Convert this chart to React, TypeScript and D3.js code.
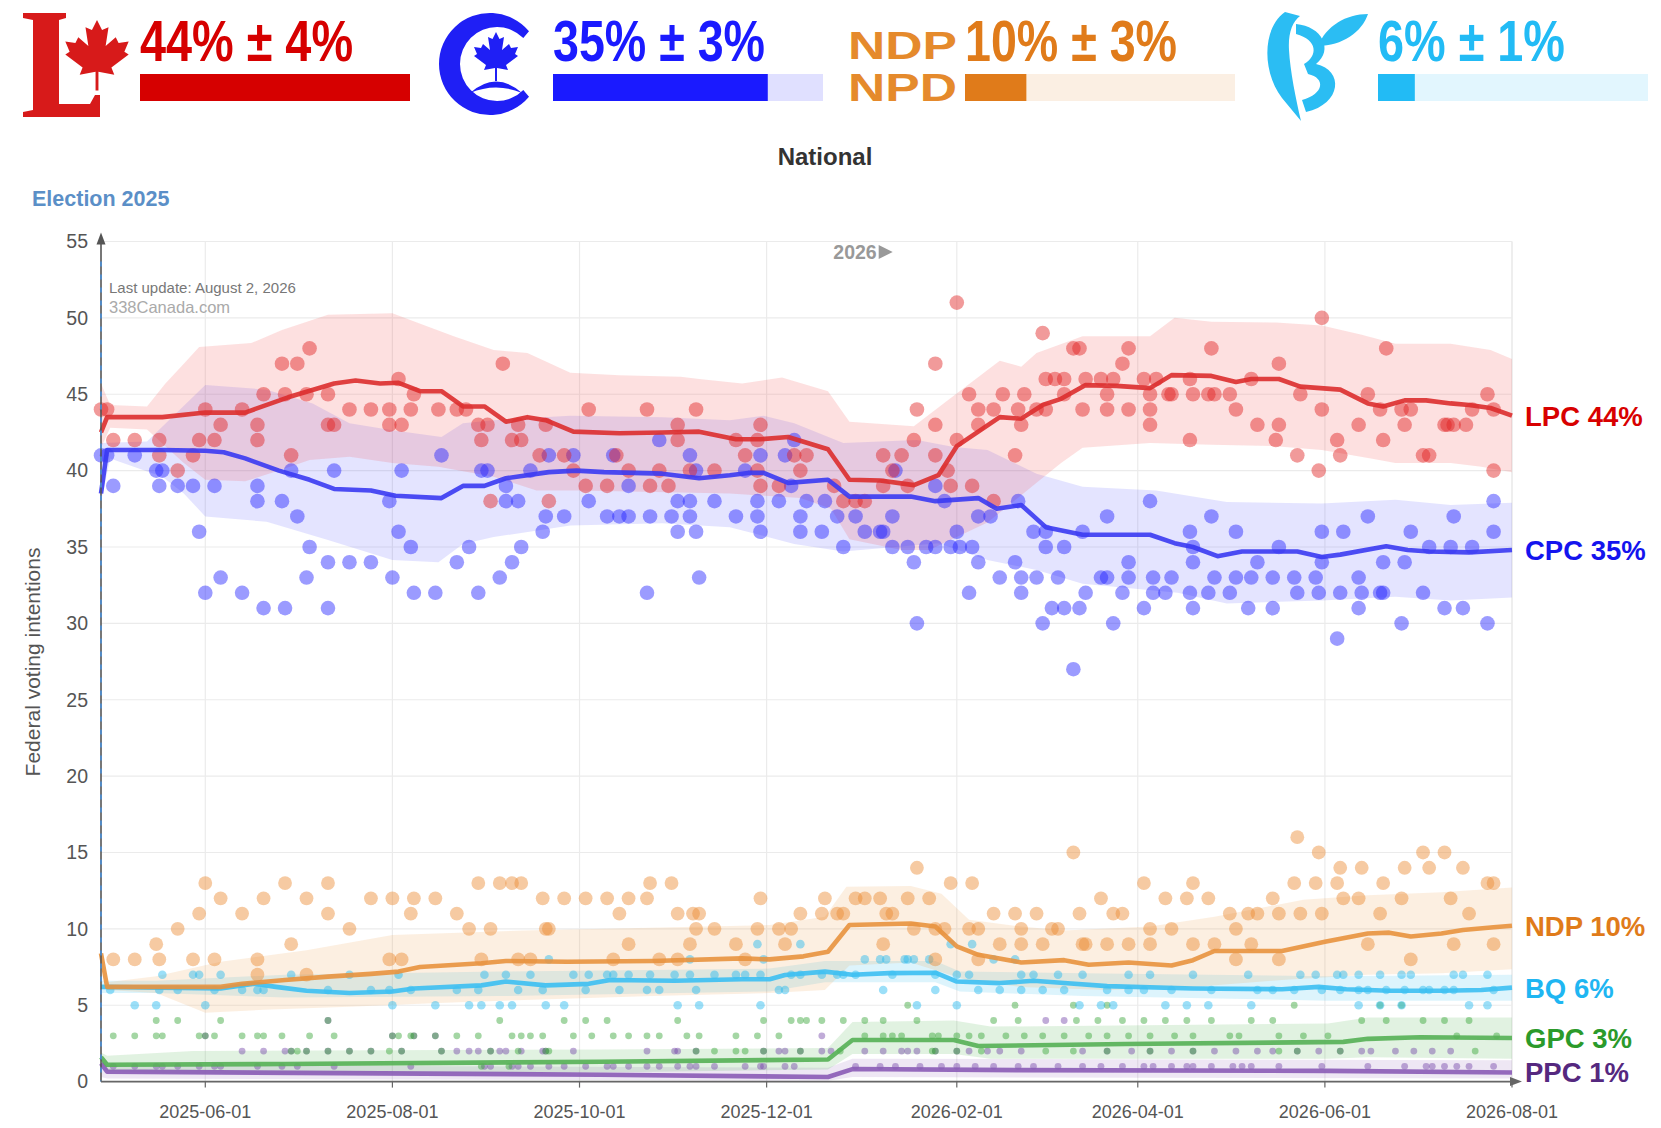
import React, { useEffect } from "react";
import * as d3 from "d3";

type Pt = [number, number]; // [days after election day, percent]
type Party = "LPC" | "CPC" | "NDP" | "BQ" | "GPC" | "PPC";

const ELECTION_DAY = "2025-04-28";
const LAST_DAY = "2026-08-01";
const X_TICKS = ["2025-06-01", "2025-08-01", "2025-10-01", "2025-12-01", "2026-02-01", "2026-04-01", "2026-06-01", "2026-08-01"];
const Y_TICKS = [0, 5, 10, 15, 20, 25, 30, 35, 40, 45, 50, 55];

const HEAD_PARTIES: Party[] = ["LPC", "CPC", "NDP", "BQ"];
const HEAD_SHARE = [44, 35, 10, 6];
const HEAD_MOE = [4, 3, 3, 1];

// polls (day, %)
const LPC_POLLS: Pt[] = [[0,44],[2,44],[4,42],[11,42],[19,42],[19,41],[25,40],[30,41],[32,42],[34,44],[37,42],[39,43],[46,44],[51,43],[51,42],[53,45],[59,47],[60,45],[62,41],[64,47],[67,45],[68,48],[74,45],[74,43],[76,43],[81,44],[88,44],[94,43],[94,44],[97,46],[98,43],[101,44],[102,45],[110,44],[116,44],[119,44],[123,43],[124,42],[126,43],[127,38],[131,47],[134,42],[136,43],[137,42],[143,41],[145,43],[146,38],[151,41],[154,40],[158,39],[159,44],[165,39],[168,41],[172,40],[178,44],[179,39],[182,40],[185,39],[188,43],[188,42],[192,40],[194,44],[200,40],[207,42],[210,41],[214,42],[215,43],[215,39],[214,40],[221,39],[226,41],[228,40],[230,41],[239,39],[242,38],[246,38],[249,38],[255,41],[255,39],[258,40],[261,41],[263,39],[265,42],[266,44],[272,43],[272,47],[272,41],[276,40],[277,39],[279,51],[279,42],[283,45],[284,39],[286,44],[286,43],[291,44],[291,38],[294,45],[298,41],[299,44],[300,43],[301,45],[305,44],[307,49],[308,44],[308,46],[311,46],[314,46],[314,45],[317,48],[319,48],[320,44],[321,46],[326,46],[328,45],[328,44],[330,46],[333,47],[335,48],[335,44],[340,46],[342,45],[342,44],[342,43],[344,46],[348,45],[349,45],[355,46],[355,42],[356,45],[361,45],[362,48],[363,45],[368,45],[370,44],[375,46],[377,43],[383,42],[384,43],[384,47],[390,41],[391,45],[397,40],[398,50],[398,44],[403,42],[404,41],[410,43],[413,45],[417,44],[418,42],[419,48],[424,44],[425,43],[427,44],[431,41],[433,41],[438,43],[439,43],[441,43],[445,43],[447,44],[452,45],[454,44],[454,40]];
const CPC_POLLS: Pt[] = [[0,41],[2,41],[4,39],[11,41],[18,40],[20,40],[19,39],[25,39],[30,39],[32,36],[34,32],[37,39],[39,33],[46,32],[51,39],[51,38],[53,31],[59,38],[60,31],[62,40],[64,37],[67,33],[68,35],[74,34],[74,31],[76,40],[81,34],[88,34],[94,38],[95,33],[97,36],[98,40],[101,35],[102,32],[109,32],[111,41],[116,34],[120,35],[123,32],[124,40],[126,40],[130,33],[132,38],[132,39],[134,34],[136,38],[137,35],[140,40],[144,36],[145,37],[146,41],[151,37],[154,41],[159,38],[165,37],[167,41],[169,37],[172,37],[172,39],[178,32],[179,37],[182,42],[186,37],[188,36],[188,38],[192,41],[192,38],[192,37],[194,40],[194,36],[195,33],[200,38],[207,37],[210,40],[214,37],[214,38],[215,36],[215,41],[221,38],[223,41],[226,42],[225,39],[228,37],[228,36],[230,38],[235,36],[236,38],[240,37],[242,35],[246,37],[249,36],[254,36],[255,36],[258,37],[259,40],[258,35],[263,35],[265,34],[266,30],[269,35],[272,35],[272,39],[275,38],[277,35],[280,35],[279,36],[283,32],[284,35],[286,34],[286,37],[290,37],[293,33],[298,34],[299,38],[300,33],[300,32],[305,33],[304,36],[307,30],[308,36],[308,35],[310,31],[312,33],[314,35],[314,31],[317,27],[319,31],[321,32],[320,36],[326,33],[328,33],[328,37],[330,30],[333,32],[335,34],[335,33],[340,31],[342,38],[343,33],[343,32],[347,32],[349,33],[355,32],[355,36],[356,35],[356,34],[356,31],[361,32],[362,37],[363,33],[368,32],[370,36],[370,33],[374,31],[375,33],[377,34],[382,33],[382,31],[384,35],[389,33],[390,32],[396,33],[397,32],[398,36],[398,34],[403,29],[404,32],[405,36],[410,33],[410,31],[411,32],[413,37],[417,32],[418,34],[418,32],[424,30],[425,34],[427,36],[431,32],[433,35],[438,31],[440,35],[441,37],[444,31],[447,35],[452,30],[454,38],[454,36]];
const NDP_POLLS: Pt[] = [[4,8],[11,8],[18,9],[19,8],[25,10],[30,8],[32,11],[34,13],[37,8],[39,12],[46,11],[51,8],[51,7],[53,12],[60,13],[62,9],[67,12],[67,7],[74,13],[74,11],[81,10],[88,12],[94,8],[95,12],[98,8],[101,11],[102,12],[109,12],[116,11],[120,10],[123,13],[124,8],[127,10],[130,13],[134,13],[137,13],[136,8],[140,8],[144,12],[145,10],[146,10],[151,12],[158,12],[165,12],[167,8],[169,11],[172,12],[172,9],[178,12],[179,13],[182,8],[186,13],[188,11],[188,8],[192,9],[193,11],[195,11],[194,10],[200,10],[207,9],[210,8],[214,10],[215,12],[221,10],[223,9],[225,10],[228,11],[235,11],[236,12],[240,11],[242,11],[246,12],[249,12],[254,12],[255,9],[256,11],[258,11],[263,12],[266,14],[265,10],[270,12],[272,10],[272,8],[275,10],[277,13],[284,13],[283,10],[286,10],[286,8],[291,11],[293,9],[298,11],[300,10],[300,9],[305,11],[307,9],[310,10],[312,10],[317,15],[319,11],[320,9],[321,9],[326,12],[328,9],[330,11],[333,11],[335,9],[340,13],[342,10],[342,9],[347,12],[349,10],[354,12],[356,13],[356,9],[361,12],[363,9],[368,11],[370,10],[370,8],[374,11],[375,9],[377,11],[382,12],[384,11],[384,8],[389,13],[390,16],[391,11],[396,13],[397,15],[398,11],[403,13],[404,14],[405,12],[410,12],[411,14],[413,9],[417,11],[418,13],[424,12],[425,14],[427,8],[431,15],[433,14],[438,15],[440,12],[441,9],[444,14],[446,11],[452,13],[454,13],[454,9]];
const BQ_POLLS: Pt[] = [[3,6],[11,5],[18,5],[19,6],[20,7],[25,6],[30,7],[32,7],[34,5],[37,6],[39,7],[46,6],[51,6],[53,6],[62,7],[74,6],[81,7],[88,6],[94,6],[95,5],[97,7],[101,6],[109,5],[116,6],[120,5],[123,6],[124,5],[125,7],[130,5],[132,7],[134,5],[136,6],[140,7],[144,6],[145,5],[146,8],[151,5],[154,7],[158,6],[159,7],[165,7],[167,7],[169,6],[172,7],[178,6],[179,7],[182,6],[187,7],[188,5],[192,8],[192,7],[194,6],[195,5],[200,7],[207,7],[210,7],[214,9],[215,5],[215,7],[216,8],[221,6],[223,6],[225,7],[228,7],[228,9],[235,7],[240,7],[242,7],[246,7],[249,8],[254,8],[256,8],[255,6],[258,7],[262,8],[263,8],[265,8],[266,5],[270,8],[272,7],[272,6],[277,9],[279,7],[279,5],[283,7],[284,9],[286,6],[291,8],[293,6],[298,8],[300,7],[300,6],[304,7],[307,6],[312,7],[314,6],[319,5],[320,7],[326,5],[328,6],[330,5],[335,7],[335,6],[340,6],[342,7],[347,5],[349,6],[354,5],[356,7],[361,5],[362,6],[374,7],[375,5],[377,6],[382,6],[389,6],[391,7],[396,7],[398,6],[403,7],[404,6],[405,7],[410,7],[410,6],[410,5],[413,6],[417,7],[417,5],[419,6],[424,7],[424,5],[425,6],[427,7],[431,6],[433,6],[438,6],[441,6],[441,7],[444,7],[446,5],[452,7],[452,5],[454,6]];
const GPC_POLLS: Pt[] = [[18,4],[25,4],[39,4],[74,4],[130,4],[151,4],[158,4],[165,4],[188,4],[216,4],[225,4],[228,4],[230,4],[235,4],[242,4],[249,4],[255,4],[266,4],[291,4],[299,4],[318,4],[325,4],[333,4],[340,4],[347,4],[354,4],[362,4],[375,4],[382,4],[411,4],[419,4],[431,4],[438,4],[446,4],
  [4,3],[11,3],[18,3],[20,3],[32,3],[34,3],[37,3],[46,3],[51,3],[53,3],[59,3],[68,3],[76,3],[95,3],[97,3],[101,3],[102,3],[109,3],[116,3],[123,3],[134,3],[137,3],[140,3],[144,3],[154,3],[160,3],[167,3],[172,3],[178,3],[182,3],[191,3],[195,3],[207,3],[214,3],[221,3],[249,3],[255,3],[258,3],[261,3],[271,3],[273,3],[279,3],[283,3],[287,3],[295,3],[301,3],[307,3],[314,3],[322,3],[328,3],[335,3],[342,3],[350,3],[356,3],[368,3],[371,3],[384,3],[392,3],[400,3],[442,3],[455,3],
  [62,2],[64,2],[67,2],[74,2],[81,2],[88,2],[94,2],[98,2],[111,2],[127,2],[136,2],[145,2],[146,2],[194,2],[200,2],[207,2],[210,2],[216,2],[228,2],[241,2],[271,2],[272,2],[279,2],[287,2],[308,2],[317,2],[328,2],[342,2],[356,2],[384,2],[390,2],[404,2],[448,2],
  [124,1],[133,1],[263,5],[298,5],[317,5],[328,5],[389,5],[417,5],[424,5]];
const PPC_POLLS: Pt[] = [[4,1],[11,1],[18,1],[20,1],[25,1],[32,1],[34,3],[37,1],[39,1],[46,2],[51,1],[53,2],[59,1],[60,2],[62,2],[64,1],[67,2],[74,2],[74,4],[76,1],[81,2],[88,2],[95,3],[98,2],[101,1],[102,3],[109,3],[111,2],[116,2],[120,2],[123,2],[125,1],[127,2],[127,1],[130,2],[132,2],[134,1],[136,1],[137,2],[140,1],[144,2],[145,2],[146,1],[151,1],[154,2],[158,1],
  [165,1],[167,1],[172,1],[178,2],[178,1],[182,1],[187,2],[188,2],[188,1],[192,1],[194,2],[194,1],[200,1],[210,1],[215,1],[216,2],[216,1],[221,2],[223,2],[223,1],[226,1],[228,2],[235,3],[235,2],[238,2],[246,1],[249,2],[254,1],[255,2],[259,1],[261,2],[263,2],[266,2],[267,1],[272,2],[274,1],[279,2],[279,1],[283,2],[285,1],[289,2],[291,1],[293,2],[299,1],[300,2],[304,1],[308,4],[312,1],[314,4],[320,2],[320,1],[326,1],[328,2],[333,1],[336,2],[340,1],[342,2],[343,1],[349,2],[349,1],[354,1],[356,2],[356,1],[362,1],[363,2],[369,1],[370,2],[372,1],[375,1],[377,2],[382,2],[384,1],[390,2],[397,2],[398,1],[404,2],[411,2],[413,1],[414,2],[422,2],[425,1],[428,2],[432,1],[434,2],[434,1],[438,1],[440,2],[442,1],[446,1],[454,1]];

// poll averages and their ranges
const LPC_TREND: Pt[] = [[0,42.5],[2,43.5],[20,43.5],[34,43.8],[47,43.8],[61,44.8],[76,45.7],[83,45.9],[91,45.7],[97,45.75],[104,45.2],[111,45.2],[118,44.2],[125,44.2],[132,43.2],[139,43.5],[145,43.3],[154,42.55],[169,42.45],[183,42.5],[195,42.55],[207,42.05],[215,42.05],[224,42.2],[237,41.4],[244,39.4],[254,39.35],[265,39.05],[273,39.7],[279,41.6],[293,43.5],[300,43.4],[307,44.3],[313,44.7],[321,45.6],[331,45.55],[342,45.4],[349,46.25],[362,46.2],[370,45.8],[375,46.0],[384,46.0],[391,45.5],[404,45.3],[413,44.4],[418,44.2],[425,44.6],[432,44.6],[440,44.4],[446,44.3],[453,44.1],[460,43.6]];
const LPC_HIGH: Pt[] = [[0,45.7],[3,44.3],[15,44.2],[21,45.7],[27,47.0],[32,48.1],[49,48.35],[59,49.2],[74,50.2],[95,50.3],[103,49.7],[115,48.8],[128,47.9],[139,47.7],[153,46.4],[169,46.25],[189,46.15],[195,46.0],[209,45.7],[222,46.1],[237,45.2],[244,43.2],[265,42.9],[278,44.9],[293,47.2],[300,46.8],[305,47.7],[320,48.8],[342,48.8],[350,50.0],[362,49.75],[383,49.7],[398,49.5],[411,48.9],[422,48.3],[440,48.3],[453,47.9],[460,47.3]];
const LPC_LOW: Pt[] = [[0,41.5],[3,42.8],[15,42.7],[27,40.5],[34,39.4],[47,39.3],[58,40.0],[68,40.7],[81,40.9],[95,40.5],[110,40.25],[128,39.6],[142,38.7],[156,38.7],[205,38.5],[228,38.2],[238,37.5],[244,35.5],[261,34.8],[270,34.8],[289,36.6],[305,39.2],[313,40.5],[320,41.5],[342,41.8],[362,41.7],[383,41.6],[398,41.35],[414,40.8],[422,40.5],[440,40.5],[450,40.25],[460,39.9]];
const CPC_TREND: Pt[] = [[0,38.5],[2,41.35],[20,41.35],[34,41.3],[40,41.2],[47,40.8],[58,40.0],[68,39.4],[76,38.8],[88,38.7],[96,38.35],[111,38.2],[118,39.0],[125,39.0],[132,39.5],[146,39.9],[155,40.0],[164,39.9],[183,39.8],[195,39.5],[205,39.7],[211,39.85],[216,39.85],[224,39.2],[237,39.4],[244,38.3],[264,38.3],[272,38.0],[286,38.2],[292,37.5],[300,37.75],[308,36.3],[320,35.8],[342,35.8],[350,35.25],[356,35.0],[364,34.4],[372,34.7],[390,34.7],[398,34.35],[404,34.5],[419,35.05],[426,34.8],[433,34.7],[446,34.65],[460,34.8]];
const CPC_HIGH: Pt[] = [[0,41.8],[15,41.9],[34,45.6],[54,45.3],[69,44.4],[81,43.1],[95,42.65],[111,42.2],[118,43.1],[128,43.3],[153,43.6],[183,43.5],[205,43.3],[216,43.6],[226,43.1],[242,41.8],[266,42.0],[278,41.55],[289,41.35],[305,39.8],[320,38.95],[344,38.7],[367,37.95],[398,37.85],[422,38.1],[440,37.75],[460,37.9]];
const CPC_LOW: Pt[] = [[0,38.0],[3,40.8],[20,39.6],[27,38.5],[34,37.0],[54,36.65],[74,35.45],[95,34.15],[110,34.0],[118,35.2],[128,35.65],[153,36.4],[183,36.55],[205,36.3],[226,35.2],[242,34.7],[273,35.25],[289,34.15],[305,33.5],[320,32.6],[351,32.0],[367,31.3],[398,31.5],[422,31.75],[440,31.5],[460,31.7]];
const NDP_TREND: Pt[] = [[0,8.4],[2,6.2],[39,6.2],[46,6.4],[60,6.65],[74,6.87],[88,7.05],[97,7.2],[104,7.5],[124,7.75],[132,7.9],[152,7.85],[180,7.9],[209,8.07],[218,8.0],[229,8.2],[237,8.5],[244,10.25],[264,10.35],[272,10.15],[279,8.85],[286,8.3],[300,7.8],[314,7.95],[322,7.65],[335,7.8],[349,7.6],[356,7.95],[363,8.55],[385,8.55],[399,9.15],[413,9.7],[420,9.75],[427,9.5],[437,9.7],[444,9.92],[454,10.1],[460,10.2]];
const NDP_HIGH: Pt[] = [[0,8.6],[2,6.5],[18,6.9],[39,7.85],[67,8.6],[95,9.6],[138,9.9],[218,10.25],[236,10.8],[243,12.75],[264,12.8],[274,12.3],[283,10.6],[300,10.15],[314,9.9],[342,10.15],[363,10.8],[392,11.9],[413,12.2],[437,12.4],[460,12.7]];
const NDP_LOW: Pt[] = [[0,8.2],[2,6.0],[18,5.8],[34,4.5],[53,4.7],[81,4.9],[110,5.15],[138,5.35],[180,5.6],[218,5.8],[236,6.0],[244,7.6],[264,7.8],[283,6.6],[300,6.2],[328,6.0],[356,6.2],[385,6.65],[413,7.0],[437,7.1],[460,7.35]];
const BQ_TREND: Pt[] = [[0,6.2],[39,6.1],[50,6.4],[57,6.2],[67,5.95],[81,5.8],[95,5.9],[102,6.1],[124,6.3],[132,6.55],[145,6.3],[159,6.4],[166,6.65],[187,6.6],[209,6.7],[218,6.7],[223,6.98],[236,7.2],[245,7.0],[257,7.1],[272,7.13],[279,6.55],[293,6.45],[304,6.6],[314,6.45],[328,6.25],[356,6.1],[385,6.05],[397,6.2],[406,6.05],[420,5.95],[437,5.95],[450,6.0],[460,6.15]];
const BQ_HIGH: Pt[] = [[0,6.6],[18,6.6],[60,7.0],[130,7.2],[218,7.4],[236,7.9],[272,7.9],[280,7.2],[320,7.1],[400,6.9],[460,7.0]];
const BQ_LOW: Pt[] = [[0,5.8],[18,5.8],[60,5.5],[130,5.6],[218,5.9],[236,6.5],[272,6.5],[280,5.9],[320,5.6],[400,5.3],[460,5.3]];
const GPC_TREND: Pt[] = [[0,1.6],[2,1.1],[60,1.15],[163,1.3],[237,1.45],[245,2.72],[278,2.72],[286,2.33],[334,2.46],[405,2.6],[413,2.8],[430,2.9],[460,2.85]];
const GPC_HIGH: Pt[] = [[0,1.9],[2,1.7],[30,2.0],[163,2.1],[237,2.2],[245,3.9],[278,4.0],[290,3.6],[400,3.8],[413,4.2],[460,4.2]];
const GPC_LOW: Pt[] = [[0,1.3],[2,0.7],[30,0.5],[163,0.6],[237,0.8],[245,1.8],[278,1.8],[290,1.5],[400,1.5],[413,1.6],[460,1.5]];
const PPC_TREND: Pt[] = [[0,1.2],[2,0.65],[163,0.45],[237,0.3],[245,0.82],[300,0.75],[400,0.7],[460,0.6]];
const PPC_HIGH: Pt[] = [[0,1.4],[2,1.1],[237,0.9],[245,1.5],[460,1.4]];
const PPC_LOW: Pt[] = [[0,0.3],[2,0.2],[237,0.05],[245,0.3],[460,0.2]];

const SERIES: Record<Party, { polls: Pt[]; trend: Pt[]; hi: Pt[]; lo: Pt[] }> = {
  PPC: { polls: PPC_POLLS, trend: PPC_TREND, hi: PPC_HIGH, lo: PPC_LOW },
  GPC: { polls: GPC_POLLS, trend: GPC_TREND, hi: GPC_HIGH, lo: GPC_LOW },
  BQ: { polls: BQ_POLLS, trend: BQ_TREND, hi: BQ_HIGH, lo: BQ_LOW },
  NDP: { polls: NDP_POLLS, trend: NDP_TREND, hi: NDP_HIGH, lo: NDP_LOW },
  CPC: { polls: CPC_POLLS, trend: CPC_TREND, hi: CPC_HIGH, lo: CPC_LOW },
  LPC: { polls: LPC_POLLS, trend: LPC_TREND, hi: LPC_HIGH, lo: LPC_LOW },
};
const DRAW_ORDER: Party[] = ["PPC", "GPC", "BQ", "NDP", "CPC", "LPC"];

const DOT: Record<Party, string> = { LPC: "#e01e1e", CPC: "#2222ff", NDP: "#ea8a30", BQ: "#22b8f0", GPC: "#36a436", PPC: "#7444a8" };
const LINE: Record<Party, string> = { LPC: "#dc2d2d", CPC: "#3a3af2", NDP: "#e8923e", BQ: "#3cbff2", GPC: "#55b055", PPC: "#8a5bb6" };
const BAND: Record<Party, [string, number]> = { LPC: ["#f04040", 0.16], CPC: ["#3d3dff", 0.14], NDP: ["#f0a050", 0.17], BQ: ["#40c0f0", 0.18], GPC: ["#50b050", 0.17], PPC: ["#8a60b8", 0.15] };
const LABEL: Record<Party, string> = { LPC: "#d80000", CPC: "#1414ee", NDP: "#e07b1a", BQ: "#1fb6f2", GPC: "#2b9a2b", PPC: "#55287f" };
const RADIUS: Record<Party, number> = { LPC: 7.3, CPC: 7.3, NDP: 6.9, BQ: 4.3, GPC: 3.4, PPC: 3.4 };

const FONT = "'Liberation Sans', Arial, Helvetica, sans-serif";

const W = 1661, H = 1128;
const LEFT = 101, RIGHT = 1512, TOP = 241.5, BOTTOM = 1081.6;

const parse = d3.timeParse("%Y-%m-%d");
const day0 = parse(ELECTION_DAY)!;
const toDate = (d: number) => d3.timeDay.offset(day0, d);

// rough maple leaf, centred on 0,0, about 88 x 98 units
const LEAF: Pt[] = [[0,-50],[-7,-36],[-16,-40],[-12,-14],[-26,-26],[-30,-18],[-44,-20],[-38,-6],[-44,-2],[-20,16],[-24,26],[-2,22],[-2,48],[2,48],[2,22],[24,26],[20,16],[44,-2],[38,-6],[44,-20],[30,-18],[26,-26],[12,-14],[16,-40],[7,-36]];
function leafPath(cx: number, cy: number, s: number) {
  return "M" + LEAF.map(([a, b]) => `${cx + a * s},${cy + b * s}`).join("L") + "Z";
}

function cShape(cx: number, cy: number) {
  const p = d3.path();
  const R = 51, r = 37, icx = cx + 7;
  p.moveTo(cx + R * Math.cos(0.7), cy + R * Math.sin(0.7));
  p.arc(cx, cy, R, 0.7, Math.PI * 2 - 0.7);
  p.lineTo(icx + r * Math.cos(Math.PI * 2 - 0.78), cy + r * Math.sin(Math.PI * 2 - 0.78));
  p.arc(icx, cy, r, Math.PI * 2 - 0.78, 0.78, true);
  p.closePath();
  return p.toString();
}

export default function App() {
  useEffect(() => {
    document.body.style.margin = "0";
    document.body.style.overflow = "hidden";
  }, []);

  const x = d3.scaleTime().domain([day0, parse(LAST_DAY)!]).range([LEFT, RIGHT]);
  const y = d3.scaleLinear().domain([0, 55]).range([BOTTOM, TOP]);
  const bar = d3.scaleLinear().domain([0, HEAD_SHARE[0]]).range([0, 270]);
  const line = d3.line<Pt>().x((p) => x(toDate(p[0]))).y((p) => y(p[1]));
  const band = (hi: Pt[], lo: Pt[]) => line([...hi, ...lo.slice().reverse()]) + "Z";

  const headX = [140, 553, 965, 1378];
  const headW = [213, 212, 212, 187];
  const headLight: Record<string, string> = { LPC: "#fde0e0", CPC: "#e0e0ff", NDP: "#fbefe3", BQ: "#e2f6fe" };
  const headDark: Record<string, string> = { LPC: "#d60000", CPC: "#1a1aff", NDP: "#e07b1a", BQ: "#22bbf5" };

  const jan1 = x(parse("2026-01-01")!);

  return (
    <svg width={W} height={H} style={{ position: "absolute", left: 0, top: 0, background: "#fff" }} fontFamily={FONT}>
      <rect width={W} height={H} fill="#fff" />

      {/* header: party logos */}
      <path d="M23,13 L66,13 L66,18 L59,20 L59,104 L90,104 L95,95 L100,95 L100,117 L23,117 L23,112 L33,110 L33,20 L23,18 Z" fill="#d71a1a" />
      <path d={leafPath(97, 56, 0.72)} fill="#d71a1a" />
      <path d={cShape(490, 64)} fill="#1f1ff5" />
      <path d={leafPath(496, 57, 0.5)} fill="#1f1ff5" />
      <path d="M470,93 Q496,70 522,93 Q496,82 470,93 Z" fill="#1f1ff5" />
      <text x={848} y={59} fontSize={38} fontWeight={900} fill="#e58a2c" textLength={109} lengthAdjust="spacingAndGlyphs">NDP</text>
      <text x={848} y={101} fontSize={38} fontWeight={900} fill="#e58a2c" textLength={109} lengthAdjust="spacingAndGlyphs">NPD</text>
      <path d="M1285,12 C1262,28 1262,72 1282,98 L1301,121 C1296,100 1290,70 1289,50 C1288,34 1292,22 1300,16 Z" fill="#2bbdf3" />
      <path d="M1296,24 C1322,26 1334,50 1316,64 C1344,70 1342,104 1306,112 L1302,100 C1324,94 1326,78 1308,74 L1304,64 C1318,56 1318,40 1296,34 Z" fill="#2bbdf3" />
      <path d="M1318,46 C1326,26 1346,14 1368,14 C1362,32 1342,46 1318,46 Z" fill="#2bbdf3" />

      {HEAD_PARTIES.map((p, i) => (
        <g key={p}>
          <text x={headX[i]} y={61} fontSize={57} fontWeight="bold" fill={headDark[p]}
            textLength={headW[i]} lengthAdjust="spacingAndGlyphs">{`${HEAD_SHARE[i]}% ± ${HEAD_MOE[i]}%`}</text>
          <rect x={headX[i]} y={74} width={270} height={27} fill={headLight[p]} />
          <rect x={headX[i]} y={74} width={bar(HEAD_SHARE[i])} height={27} fill={headDark[p]} />
        </g>
      ))}

      <text x={825} y={165} fontSize={24} fontWeight="bold" fill="#333" textAnchor="middle">National</text>
      <text x={32} y={206} fontSize={21.5} fontWeight="bold" fill="#5b8fc7">Election 2025</text>

      {/* grid */}
      {Y_TICKS.map((t) => (
        <line key={"gy" + t} x1={LEFT} x2={RIGHT} y1={y(t)} y2={y(t)} stroke="#ebebeb" strokeWidth={1.2} />
      ))}
      {X_TICKS.map((t) => (
        <line key={"gx" + t} x1={x(parse(t)!)} x2={x(parse(t)!)} y1={TOP} y2={BOTTOM} stroke="#ebebeb" strokeWidth={1.2} />
      ))}
      <line x1={RIGHT} x2={RIGHT} y1={TOP} y2={BOTTOM} stroke="#ebebeb" strokeWidth={1.2} />

      {/* uncertainty bands */}
      {DRAW_ORDER.map((p) => (
        <path key={"b" + p} d={band(SERIES[p].hi, SERIES[p].lo)} fill={BAND[p][0]} fillOpacity={BAND[p][1]} />
      ))}

      {/* polls */}
      {DRAW_ORDER.map((p) => (
        <g key={"d" + p} fill={DOT[p]} fillOpacity={0.45}>
          {SERIES[p].polls.map((d, i) => (
            <circle key={i} cx={x(toDate(d[0]))} cy={y(d[1])} r={RADIUS[p]} />
          ))}
        </g>
      ))}

      {/* averages */}
      {DRAW_ORDER.map((p) => (
        <path key={"l" + p} d={line(SERIES[p].trend)!} fill="none" stroke={LINE[p]} strokeOpacity={0.9}
          strokeWidth={4.6} strokeLinejoin="round" />
      ))}

      {/* axes */}
      <line x1={LEFT} x2={LEFT} y1={BOTTOM} y2={TOP} stroke="#555" strokeWidth={1.6} />
      <path d={`M${LEFT},${TOP - 9} L${LEFT - 4.5},${TOP + 3} L${LEFT + 4.5},${TOP + 3} Z`} fill="#555" />
      <line x1={LEFT} x2={LEFT} y1={TOP + 20} y2={BOTTOM} stroke="#4a90d9" strokeWidth={1.6} strokeDasharray="5,8" />
      <line x1={LEFT} x2={RIGHT} y1={BOTTOM} y2={BOTTOM} stroke="#666" strokeWidth={1.6} />
      <path d={`M${RIGHT + 10},${BOTTOM} L${RIGHT - 2},${BOTTOM - 4.5} L${RIGHT - 2},${BOTTOM + 4.5} Z`} fill="#666" />
      {X_TICKS.map((t) => (
        <g key={"tx" + t}>
          <line x1={x(parse(t)!)} x2={x(parse(t)!)} y1={BOTTOM} y2={BOTTOM + 6} stroke="#666" strokeWidth={1.2} />
          <text x={x(parse(t)!)} y={1118} fontSize={18} fill="#555" textAnchor="middle">{t}</text>
        </g>
      ))}
      {Y_TICKS.map((t) => (
        <text key={"ty" + t} x={88} y={y(t)} dy="0.35em" fontSize={19.5} fill="#555" textAnchor="end">{t}</text>
      ))}
      <text transform="translate(40,662) rotate(-90)" fontSize={21} fill="#555" textAnchor="middle">Federal voting intentions</text>

      <text x={109} y={293} fontSize={15} fill="#777">Last update: August 2, 2026</text>
      <text x={109} y={313} fontSize={16.5} fill="#aaa">338Canada.com</text>

      <text x={jan1 + 15} y={259} fontSize={19.5} fontWeight="bold" fill="#999" textAnchor="end">2026</text>
      <path d={`M${jan1 + 17},${245} L${jan1 + 31},${252} L${jan1 + 17},${259} Z`} fill="#999" />

      {/* end labels */}
      {DRAW_ORDER.map((p) => {
        const last = SERIES[p].trend[SERIES[p].trend.length - 1][1];
        return (
          <text key={"lab" + p} x={1525} y={y(last) + 10} fontSize={27.5} fontWeight="bold" fill={LABEL[p]}>
            {`${p} ${Math.round(last)}%`}
          </text>
        );
      })}
    </svg>
  );
}
